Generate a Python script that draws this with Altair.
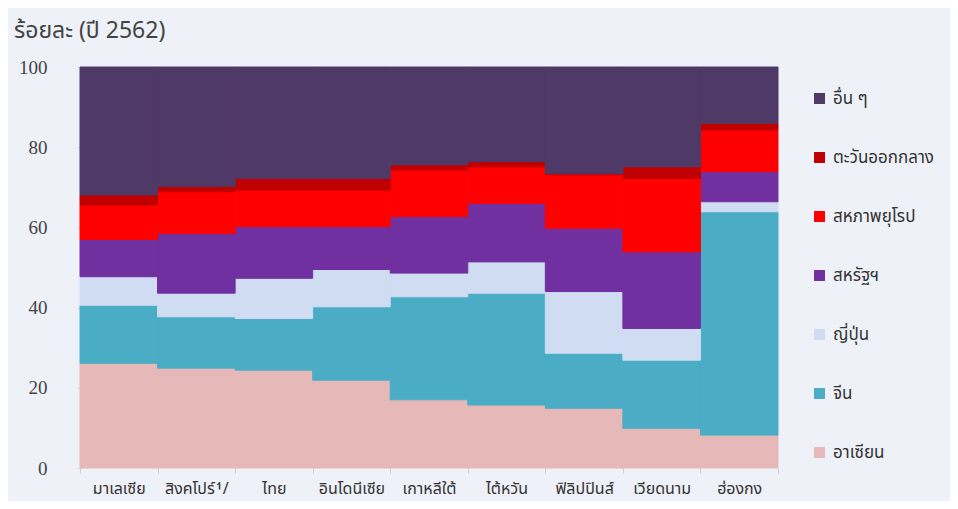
import altair as alt
import pandas as pd

countries = ["มาเลเซีย", "สิงคโปร์¹/", "ไทย", "อินโดนีเซีย", "เกาหลีใต้", "ไต้หวัน", "ฟิลิปปินส์", "เวียดนาม", "ฮ่องกง"]
# legend order (top to bottom)
series = ["อื่น ๆ", "ตะวันออกกลาง", "สหภาพยุโรป", "สหรัฐฯ", "ญี่ปุ่น", "จีน", "อาเซียน"]
colors = ["#4f3966", "#c00000", "#ff0000", "#7030a0", "#cfdcf2", "#4bacc6", "#e6b9b8"]

asean = [26.1, 24.9, 24.4, 21.9, 17.0, 15.7, 14.9, 9.9, 8.2]
china = [14.5, 12.8, 12.9, 18.3, 25.7, 27.9, 13.7, 17.0, 55.7]
japan = [7.1, 5.9, 10.0, 9.3, 5.9, 7.8, 15.4, 7.9, 2.5]
usa = [9.3, 14.9, 12.9, 10.7, 14.1, 14.6, 15.8, 19.1, 7.5]
eu = [8.6, 10.4, 9.1, 9.1, 11.6, 9.1, 13.3, 18.3, 10.4]
mideast = [2.5, 1.3, 2.9, 2.9, 1.3, 1.3, 0.3, 2.9, 1.7]
others = [31.9, 29.8, 27.8, 27.8, 24.4, 23.6, 26.6, 24.9, 14.0]

values = {
    "อาเซียน": asean, "จีน": china, "ญี่ปุ่น": japan, "สหรัฐฯ": usa,
    "สหภาพยุโรป": eu, "ตะวันออกกลาง": mideast, "อื่น ๆ": others,
}
stack_order = ["อาเซียน", "จีน", "ญี่ปุ่น", "สหรัฐฯ", "สหภาพยุโรป", "ตะวันออกกลาง", "อื่น ๆ"]

rows = []
for s in stack_order:
    for c, v in zip(countries, values[s]):
        rows.append({"country": c, "series": s, "value": v, "rank": stack_order.index(s)})
df = pd.DataFrame(rows)

THAI = "Noto Sans Thai, Loma, Garuda, Tahoma, Noto Sans, sans-serif"
SERIF = "'Liberation Serif', 'Times New Roman', serif"

color_scale = alt.Scale(domain=series, range=colors)

chart = alt.Chart(df).mark_bar(strokeWidth=1).encode(
    x=alt.X("country:N", sort=countries,
            scale=alt.Scale(paddingInner=0, paddingOuter=0),
            axis=alt.Axis(title=None, labelAngle=0, tickBand="extent", labelFont=THAI,
                          labelFontSize=16, labelColor="#333333", labelPadding=7,
                          domain=False, tickColor="#c8ccd8", tickSize=5)),
    y=alt.Y("value:Q", stack="zero",
            scale=alt.Scale(domain=[0, 100], nice=False),
            axis=alt.Axis(title=None, values=[0, 20, 40, 60, 80, 100], grid=False,
                          labelFont=SERIF, labelFontSize=19, labelColor="#444444",
                          labelPadding=30, domainColor="#d4d8e4", tickColor="#d4d8e4", tickSize=3)),
    color=alt.Color("series:N", scale=color_scale,
                    legend=alt.Legend(title=None, orient="none", legendX=731, legendY=23,
                                      symbolType="square", symbolSize=120, symbolStrokeWidth=0,
                                      labelFont=THAI, labelFontSize=17, labelColor="#333333",
                                      rowPadding=41, labelOffset=5, labelLimit=300)),
    stroke=alt.Stroke("series:N", scale=color_scale, legend=None),
    order=alt.Order("rank:Q", sort="ascending"),
).properties(
    width=698, height=401,
    title=alt.TitleParams("ร้อยละ (ปี 2562)", anchor="start", frame="group", dx=-66, offset=15,
                          font=THAI, fontSize=23, fontWeight="normal", color="#444444"),
    autosize=alt.AutoSizeParams(type="none"),
    padding={"left": 72, "top": 59, "right": 172, "bottom": 33},
    background="#eef1f8",
).configure_view(stroke=None)

chart.save("out.html", embed_options={"renderer": "svg", "actions": False})
